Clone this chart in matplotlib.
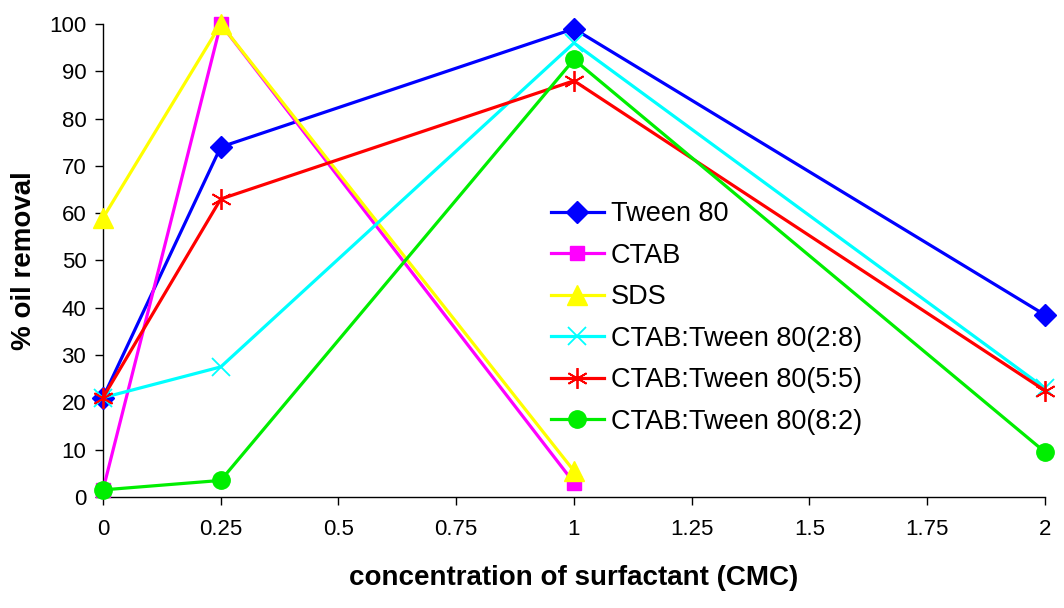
import matplotlib
matplotlib.use("Agg")
import matplotlib.pyplot as plt

plt.rcParams['font.family'] = ['Liberation Sans', 'DejaVu Sans']

# Surfactant concentration (CMC) and % oil removal for each surfactant system
conc = [0, 0.25, 1, 2]
tween80 = [21, 74, 99, 38.5]
ctab_conc = [0, 0.25, 1]
ctab = [1.5, 100, 3]
sds_conc = [0, 0.25, 1]
sds = [59, 100, 5.5]
mix_28 = [21, 27.5, 96, 23]
mix_55 = [21, 63, 88, 22.5]
mix_82 = [1.5, 3.5, 92.5, 9.5]

x_ticks = [0, 0.25, 0.5, 0.75, 1, 1.25, 1.5, 1.75, 2]
x_tick_labels = ["0", "0.25", "0.5", "0.75", "1", "1.25", "1.5", "1.75", "2"]
y_ticks = list(range(0, 101, 10))

fig = plt.figure(figsize=(10.64, 6.08), dpi=100)
ax = fig.add_axes([0.0968, 0.1826, 0.8853, 0.7779])

lw = 2.3
series = [
    (conc, tween80, "Tween 80", "#0000FF", "D", 11, {}),
    (ctab_conc, ctab, "CTAB", "#FF00FF", "s", 10.5, {}),
    (sds_conc, sds, "SDS", "#FFFF00", "^", 14, {}),
    (conc, mix_28, "CTAB:Tween 80(2:8)", "#00FFFF", "x", 13, {"markeredgewidth": 1.3}),
    (conc, mix_55, "CTAB:Tween 80(5:5)", "#FF0000", (6, 2, 0), 15, {"markeredgewidth": 1.3}),
    (conc, mix_82, "CTAB:Tween 80(8:2)", "#00EE00", "o", 12.5, {}),
]
for xs, ys, label, color, marker, ms, extra in series:
    ax.plot(xs, ys, color=color, lw=lw, marker=marker, markersize=ms,
            markerfacecolor=color, markeredgecolor=color, label=label,
            clip_on=False, zorder=3, **extra)

ax.set_xlim(0, 2)
ax.set_ylim(0, 100)
ax.set_xticks(x_ticks)
ax.set_xticklabels(x_tick_labels)
ax.set_yticks(y_ticks)
ax.tick_params(axis='both', labelsize=16, direction='out', length=6, width=1)
ax.tick_params(axis='x', pad=10)
ax.tick_params(axis='y', pad=6)
for side in ("top", "right"):
    ax.spines[side].set_visible(False)
for side in ("left", "bottom"):
    ax.spines[side].set_linewidth(1)

ax.set_xlabel("concentration of surfactant (CMC)", fontsize=20, fontweight='bold', labelpad=18)
ax.set_ylabel("% oil removal", fontsize=20, fontweight='bold', labelpad=9)

ax.legend(loc='upper left', bbox_to_anchor=(0.4756, 0.625), frameon=False,
          fontsize=19.5, handlelength=1.95, handletextpad=0.26, labelspacing=0.57,
          borderaxespad=0, borderpad=0)

fig.savefig("out.png", dpi=100)
